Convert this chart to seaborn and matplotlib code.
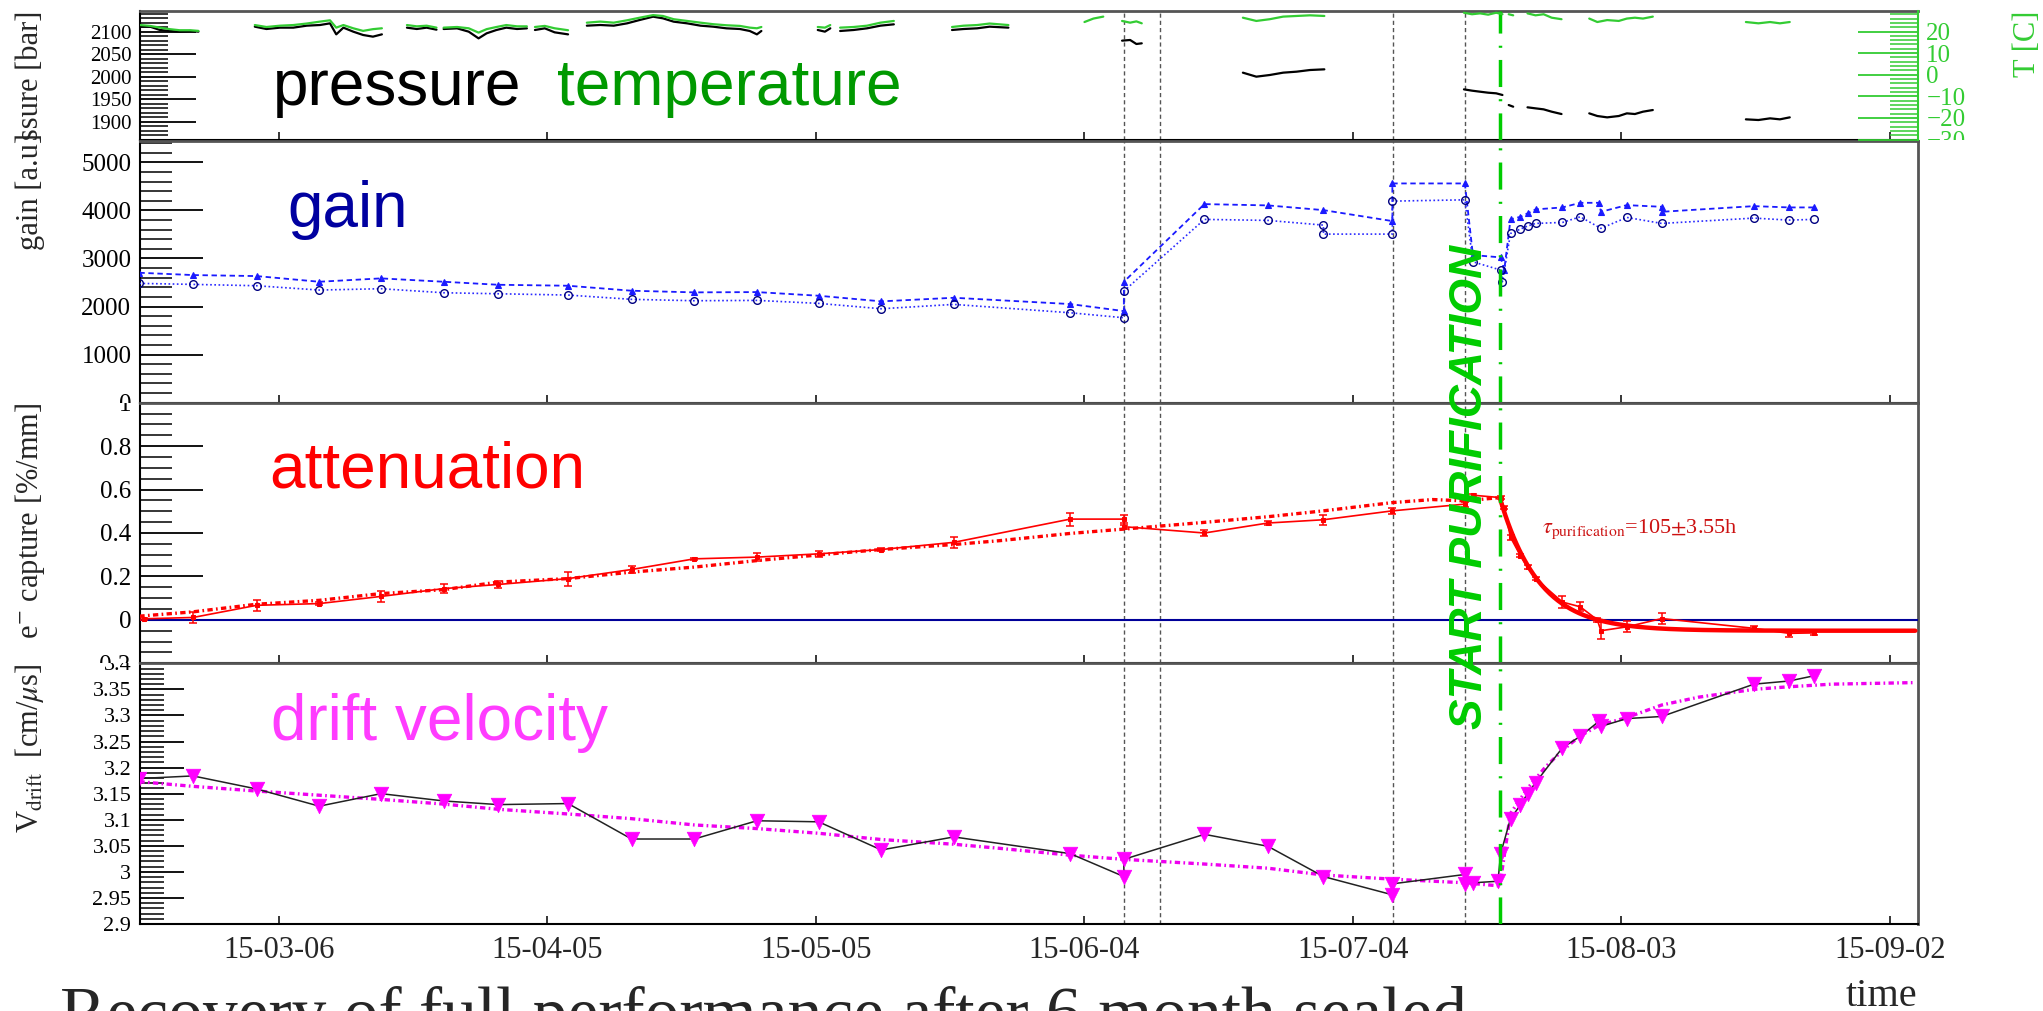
import numpy as np
import pandas as pd
import matplotlib
matplotlib.use("Agg")
import matplotlib.pyplot as plt
import matplotlib.dates as mdates
from matplotlib.ticker import MultipleLocator, FixedLocator, FuncFormatter
from matplotlib.transforms import Bbox, TransformedBbox
import seaborn as sns

# ---------------------------------------------------------------- data
# time is given in days relative to 2015-03-06
T0 = pd.Timestamp("2015-03-06")
x_range_days = (-15.56, 183.13)
tick_days = [0, 30, 60, 90, 120, 150, 180]
run_marks_days = [94.4, 98.4, 124.5, 132.5]
purification_day = 136.4

# slow control: pressure [bar] and temperature [C], recorded in stretches
sc_days = [
    [-15.5, -14.4, -13.3, -12.2, -11.1, -9.9, -9.0],
    [-2.7, -1.4, 0.1, 1.6, 3.1, 4.6, 5.7, 6.4, 7.2, 8.3, 9.4, 10.5, 11.5],
    [14.3, 15.4, 16.5, 17.6],
    [18.4, 19.9, 21.2, 22.3, 23.2, 24.3, 25.4, 26.6, 27.7],
    [28.6, 29.7, 30.8, 32.3],
    [34.4, 35.9, 37.4, 38.9, 40.3, 41.8, 42.9, 44.1, 45.6, 47.1, 48.5, 50.0, 51.5, 52.6, 53.4, 53.9],
    [60.2, 61.0, 61.6],
    [62.7, 64.2, 65.7, 67.2, 68.7],
    [75.2, 76.5, 78.0, 79.4, 81.5],
    [94.2, 95.1, 95.8, 96.4],
    [107.7, 109.2, 110.7, 112.2, 113.7, 115.2, 116.8],
    [132.4, 133.3, 134.2, 135.1, 136.0, 136.7],
    [137.4, 137.9],
    [139.5, 140.4, 141.3, 142.2, 143.3],
    [146.4, 147.3, 148.4, 149.7, 150.6, 151.5, 152.4, 153.5],
    [163.9, 165.3, 166.6, 167.7, 168.8],
]
sc_pressure = [
    [2111.2, 2111.2, 2103.8, 2101.6, 2100.1, 2101.6, 2100.1],
    [2111.2, 2106.0, 2109.0, 2109.0, 2113.4, 2114.9, 2118.6, 2094.1, 2109.0, 2100.1, 2092.7, 2089.0, 2094.1],
    [2109.0, 2106.0, 2109.0, 2104.5],
    [2106.0, 2107.5, 2100.1, 2085.2, 2096.4, 2103.8, 2109.0, 2106.0, 2107.5],
    [2103.8, 2107.5, 2098.6, 2094.1],
    [2113.4, 2114.9, 2113.4, 2118.6, 2126.0, 2133.4, 2129.7, 2122.3, 2118.6, 2113.4, 2111.2, 2107.5, 2106.0, 2101.6, 2094.1, 2101.6],
    [2103.8, 2100.1, 2107.5],
    [2101.6, 2103.8, 2107.5, 2113.4, 2116.4],
    [2103.8, 2106.0, 2107.5, 2111.2, 2109.0],
    [2080.1, 2081.6, 2072.7, 2074.2],
    [2009.0, 2000.1, 2003.8, 2009.0, 2011.2, 2014.9, 2016.4],
    [1971.9, 1969.0, 1966.7, 1964.5, 1963.1, 1959.4],
    [1937.1, 1933.4],
    [1932.0, 1929.7, 1927.5, 1922.3, 1917.1],
    [1918.6, 1912.7, 1909.7, 1912.7, 1918.6, 1917.1, 1922.3, 1926.0],
    [1905.3, 1903.8, 1907.5, 1905.3, 1909.7],
]
sc_temperature = [
    [23.0, 22.6, 21.8, 21.1, 20.6, 20.6, 20.3],
    [23.0, 22.1, 22.7, 23.0, 23.7, 24.6, 25.2, 21.8, 23.0, 21.5, 20.3, 21.1, 21.5],
    [23.0, 22.4, 22.7, 21.8],
    [21.8, 22.1, 21.5, 19.5, 21.1, 22.1, 23.0, 22.4, 22.4],
    [22.1, 22.6, 21.5, 20.6],
    [24.1, 24.6, 24.1, 25.2, 26.4, 27.6, 27.2, 25.7, 24.9, 24.1, 23.4, 22.9, 22.6, 21.8, 21.5, 22.1],
    [22.1, 21.8, 23.0],
    [21.8, 22.1, 22.7, 24.1, 24.9],
    [22.1, 22.7, 23.0, 23.7, 23.0],
    [24.9, 24.1, 24.7, 23.8],
    [26.4, 24.9, 25.7, 26.9, 27.2, 27.5, 27.2],
    [28.7, 28.0, 28.4, 27.8, 28.7, 28.0],
    [28.0, 27.5],
    [28.4, 27.5, 28.0, 26.4, 25.7],
    [26.0, 24.4, 25.3, 24.9, 26.0, 26.4, 26.0, 26.9],
    [24.4, 23.8, 24.4, 23.8, 24.4],
]
# stretch with temperature only
t_only_days = [90.0, 91.0, 92.1]
t_only_temperature = [24.4, 26.0, 26.9]

# gain, two readout methods
gain_hi_days = [-15.6, -9.6, -2.5, 4.5, 11.4, 18.4, 24.5, 32.3, 39.4, 46.4, 53.4, 60.3, 67.3, 75.4,
                88.4, 94.4, 94.4, 103.4, 110.5, 116.7, 124.4, 124.4, 132.5, 133.4, 136.5, 136.9,
                137.6, 138.7, 139.5, 140.4, 143.4, 145.4, 147.5, 147.7, 150.6, 154.5, 154.5,
                164.8, 168.7, 171.5]
gain_hi = [2703, 2655, 2634, 2516, 2586, 2516, 2453, 2433, 2329, 2295, 2301, 2225, 2108, 2183,
           2052, 1906, 2516, 4131, 4104, 4006, 3778, 4561, 4561, 3071, 3023, 2759,
           3813, 3867, 3938, 4021, 4062, 4158, 4158, 3971, 4110, 4075, 3971,
           4089, 4062, 4062]
gain_lo_days = [-15.6, -9.6, -2.5, 4.5, 11.4, 18.4, 24.5, 32.3, 39.4, 46.4, 53.4, 60.3, 67.3, 75.4,
                88.4, 94.4, 94.4, 103.4, 110.5, 116.7, 116.7, 124.4, 124.4, 132.5, 133.4, 136.5,
                136.7, 137.6, 138.7, 139.5, 140.4, 143.4, 145.4, 147.7, 150.6, 154.5,
                164.8, 168.7, 171.5]
gain_lo = [2482, 2461, 2433, 2343, 2371, 2287, 2266, 2239, 2150, 2121, 2128, 2066, 1954, 2045,
           1871, 1767, 2322, 3813, 3792, 3694, 3507, 3507, 4193, 4220, 2931, 2759,
           2516, 3521, 3611, 3674, 3729, 3750, 3867, 3626, 3854, 3729,
           3840, 3798, 3813]

# electron capture [%/mm]
att_days = [-15.1, -9.6, -2.5, 4.5, 11.4, 18.4, 24.5, 32.3, 39.4, 46.4, 53.4, 60.3, 67.3, 75.4,
            88.4, 94.4, 94.4, 103.4, 110.5, 116.7, 124.4, 132.5, 133.4, 136.5, 136.9,
            137.6, 138.7, 139.5, 140.4, 143.4, 145.4, 147.3, 147.7, 150.6, 154.5,
            164.8, 168.7, 171.5]
att = [0.005, 0.011, 0.067, 0.075, 0.108, 0.144, 0.163, 0.190, 0.232, 0.281, 0.289, 0.304, 0.324, 0.357,
       0.464, 0.464, 0.429, 0.400, 0.446, 0.461, 0.502, 0.533, 0.574, 0.563, 0.517,
       0.380, 0.296, 0.243, 0.190, 0.082, 0.060, 0.000, -0.050, -0.032, 0.006,
       -0.039, -0.062, -0.060]
att_err = [0.005, 0.024, 0.026, 0.008, 0.024, 0.020, 0.018, 0.032, 0.015, 0.006, 0.019, 0.015, 0.008, 0.024,
           0.030, 0.020, 0.010, 0.015, 0.010, 0.024, 0.015, 0.011, 0.006, 0.008, 0.008,
           0.010, 0.008, 0.008, 0.008, 0.027, 0.020, 0.008, 0.040, 0.025, 0.025,
           0.010, 0.015, 0.008]
att_trend_days = [-15.6, -9.6, -2.5, 4.5, 11.4, 18.4, 24.5, 32.3, 39.4, 46.4, 53.4, 60.3, 67.3, 75.4,
                  80.6, 88.4, 94.4, 103.4, 110.5, 116.7, 124.4, 128.9, 132.5, 136.4]
att_trend = [0.017, 0.037, 0.072, 0.090, 0.121, 0.139, 0.174, 0.190, 0.220, 0.243, 0.273, 0.299, 0.324, 0.347,
             0.365, 0.398, 0.418, 0.449, 0.475, 0.502, 0.540, 0.554, 0.548, 0.563]
# exponential purification fit
tau_purification_h = 105.0
tau_err_h = 3.55
fit_amplitude = 0.613
fit_offset = -0.05

# drift velocity [cm/us]
vd_days = [-15.6, -9.6, -2.5, 4.5, 11.4, 18.4, 24.5, 32.3, 39.4, 46.4, 53.4, 60.3, 67.3, 75.4,
           88.4, 94.4, 94.4, 103.4, 110.5, 116.7, 124.4, 124.4, 132.5, 132.5, 133.4, 136.2,
           136.5, 137.6, 138.7, 139.5, 140.4, 143.4, 145.4, 147.5, 147.7, 150.6, 154.5,
           164.8, 168.7, 171.5]
vd = [3.179, 3.184, 3.159, 3.126, 3.150, 3.136, 3.129, 3.131, 3.063, 3.063, 3.098, 3.096, 3.042, 3.067,
      3.035, 2.991, 3.024, 3.072, 3.049, 2.991, 2.956, 2.977, 2.995, 2.977, 2.979, 2.982,
      3.035, 3.102, 3.128, 3.150, 3.171, 3.238, 3.260, 3.289, 3.279, 3.294, 3.298,
      3.360, 3.366, 3.376]
vd_trend_days = [-15.6, -9.6, -2.5, 4.5, 11.4, 18.4, 24.5, 32.3, 39.4, 46.4, 53.4, 60.3, 67.3, 75.4,
                 80.6, 88.4, 94.4, 103.4, 110.5, 116.7, 124.4, 132.5, 136.4, 137.6, 139.5, 141.5,
                 143.4, 145.4, 147.5, 150.6, 154.5, 158.6, 164.8, 168.7, 173.5, 182.8]
vd_trend = [3.173, 3.164, 3.155, 3.147, 3.139, 3.130, 3.120, 3.111, 3.102, 3.090, 3.083, 3.074, 3.062, 3.053,
            3.045, 3.032, 3.024, 3.015, 3.007, 2.994, 2.986, 2.979, 2.973, 3.112, 3.160, 3.201,
            3.233, 3.261, 3.281, 3.296, 3.320, 3.335, 3.350, 3.355, 3.360, 3.363]


def to_time(days):
    return T0 + pd.to_timedelta(np.asarray(days, dtype=float), unit="D")


# ---------------------------------------------------------------- style
sns.set_theme(style="ticks")
plt.rcParams["font.family"] = ["Liberation Serif", "DejaVu Serif"]
plt.rcParams["mathtext.fontset"] = "stix"
plt.rcParams["axes.facecolor"] = "white"
SANS = ["Liberation Sans", "DejaVu Sans"]

GREEN_T = "#33cc33"
GREEN_P = "#00cc00"

W, H = 2043, 1011
fig = plt.figure(figsize=(W / 100, H / 100), dpi=100)
X0, X1 = 139.7, 1918.0
panel_px = [(11.0, 140.0), (140.7, 402.7), (402.7, 663.3), (663.3, 924.0)]


def rect(top, bot):
    return [X0 / W, 1 - bot / H, (X1 - X0) / W, (bot - top) / H]


ax1 = fig.add_axes(rect(*panel_px[0]))
ax2 = fig.add_axes(rect(*panel_px[1]), sharex=ax1)
ax3 = fig.add_axes(rect(*panel_px[2]), sharex=ax1)
ax4 = fig.add_axes(rect(*panel_px[3]), sharex=ax1)
axes = [ax1, ax2, ax3, ax4]


def num_fmt(v, pos):
    v = round(v, 6)
    if v == 0:
        return "0"
    return f"{v:g}".replace("-", "\u2212")


# ---------------------------------------------------------------- panel 1: pressure / temperature
rows_p, rows_t = [], []
for k, (d, p, t) in enumerate(zip(sc_days, sc_pressure, sc_temperature)):
    for di, pi, ti in zip(d, p, t):
        rows_p.append((k, di, pi))
        rows_t.append((k, di, ti))
for di, ti in zip(t_only_days, t_only_temperature):
    rows_t.append((len(sc_days), di, ti))
df_p = pd.DataFrame(rows_p, columns=["seg", "day", "pressure"])
df_t = pd.DataFrame(rows_t, columns=["seg", "day", "temperature"])
df_p["time"] = to_time(df_p["day"])
df_t["time"] = to_time(df_t["day"])

sns.lineplot(data=df_p, x="time", y="pressure", units="seg", estimator=None, sort=False,
             color="black", lw=1.6, ax=ax1, legend=False, zorder=4)
ax1t = ax1.twinx()
sns.lineplot(data=df_t, x="time", y="temperature", units="seg", estimator=None, sort=False,
             color=GREEN_T, lw=1.6, ax=ax1t, legend=False, zorder=5)

# ---------------------------------------------------------------- panel 2: gain
sns.lineplot(x=to_time(gain_hi_days), y=gain_hi, sort=False, estimator=None, ax=ax2,
             color="#1a1aff", lw=1.3, linestyle=(0, (3, 2)), marker="^", markersize=5,
             markeredgecolor="#1a1aff", markeredgewidth=0.8, zorder=5)
sns.lineplot(x=to_time(gain_lo_days), y=gain_lo, sort=False, estimator=None, ax=ax2,
             color="#2a2aff", lw=1.2, linestyle=(0, (1, 1.5)), marker="o", markersize=5.5,
             markerfacecolor="none", markeredgecolor="#000080", markeredgewidth=1.0, zorder=5)

# ---------------------------------------------------------------- panel 3: attenuation
ax3.axhline(0, color="#000099", lw=1.5, zorder=3)
sns.lineplot(x=to_time(att_trend_days), y=att_trend, sort=False, estimator=None, ax=ax3,
             color="red", lw=2.4, linestyle=(0, (1.6, 1.0, 0.5, 1.0)), zorder=4)
sns.lineplot(x=to_time(att_days), y=att, sort=False, estimator=None, ax=ax3,
             color="red", lw=1.2, marker="s", markersize=3, markeredgecolor="red", zorder=5)
ax3.errorbar(to_time(att_days), att, yerr=att_err, fmt="none", ecolor="red",
             elinewidth=1.1, capsize=3, capthick=1.1, zorder=5)
fit_days = np.linspace(purification_day, x_range_days[1] - 0.3, 300)
fit_vals = fit_amplitude * np.exp(-(fit_days - purification_day) * 24.0 / tau_purification_h) + fit_offset
sns.lineplot(x=to_time(fit_days), y=fit_vals, sort=False, estimator=None, ax=ax3,
             color="red", lw=3.2, zorder=6)

# ---------------------------------------------------------------- panel 4: drift velocity
sns.lineplot(x=to_time(vd_trend_days), y=vd_trend, sort=False, estimator=None, ax=ax4,
             color="#ee00ee", lw=2.4, linestyle=(0, (1.6, 1.0, 0.5, 1.0)), zorder=4)
sns.lineplot(x=to_time(vd_days), y=vd, sort=False, estimator=None, ax=ax4,
             color="#222222", lw=1.1, zorder=5)
sns.scatterplot(x=to_time(vd_days), y=vd, ax=ax4, marker="v", s=110, color="#ff00ff",
                edgecolor="#ff00ff", linewidth=0.5, zorder=6, legend=False)

# ---------------------------------------------------------------- vertical markers
for ax in axes:
    for d in run_marks_days:
        ax.axvline(to_time([d])[0], color="#555555", lw=1.0, ls=(0, (3, 2.2)), zorder=2)
    ax.axvline(to_time([purification_day])[0], color=GREEN_P, lw=2.5,
               ls=(0, (7.8, 3.5, 0.6, 3.5)), zorder=7)

# ---------------------------------------------------------------- axes styling
yconf = [
    (ax1, (1859.4, 2146.0), 50, 10, 40, 20, 15),
    (ax2, (0, 5450), 1000, 200, 45, 23, 18),
    (ax3, (-0.2, 1.0), 0.2, 0.05, 45, 23, 18),
    (ax4, (2.9, 3.4), 0.05, 0.01, 32, 17, 16),
]
for ax, lim, maj, mnr, lmaj, lmin, fs in yconf:
    ax.set_ylim(*lim)
    ax.yaxis.set_major_locator(MultipleLocator(maj))
    ax.yaxis.set_minor_locator(MultipleLocator(mnr))
    ax.yaxis.set_major_formatter(FuncFormatter(num_fmt))
    ax.tick_params(axis="y", which="major", direction="in", length=lmaj, width=1.3,
                   labelsize=fs, pad=6, left=True, right=False, colors="black")
    ax.tick_params(axis="y", which="minor", direction="in", length=lmin, width=1.3,
                   left=True, right=False)
    ax.tick_params(axis="x", which="major", direction="in", length=6, width=1.3,
                   bottom=True, top=False, labelsize=22, pad=9)
    ax.tick_params(axis="x", which="minor", bottom=False, top=False)
    for s in ("top", "right"):
        ax.spines[s].set_color("#555555")
        ax.spines[s].set_linewidth(2)
    for s in ("left", "bottom"):
        ax.spines[s].set_color("black")
        ax.spines[s].set_linewidth(1.5)
    ax.set_xlabel("")
    ax.set_facecolor("white")

ax1.spines["right"].set_visible(False)

ax4.set_xlim(to_time([x_range_days[0]])[0], to_time([x_range_days[1]])[0])
ax4.xaxis.set_major_locator(FixedLocator(mdates.date2num(to_time(tick_days))))
ax4.xaxis.set_major_formatter(mdates.DateFormatter("%y-%m-%d"))
for ax in (ax1, ax2, ax3):
    ax.tick_params(axis="x", labelbottom=False)

# temperature axis on the right of the top panel
ax1t.set_ylim(-30.2, 29.5)
ax1t.yaxis.set_major_locator(MultipleLocator(10))
ax1t.yaxis.set_minor_locator(MultipleLocator(2))
ax1t.yaxis.set_major_formatter(FuncFormatter(num_fmt))
ax1t.tick_params(axis="y", which="major", direction="in", length=43, width=1.3,
                 labelsize=18, pad=6, colors=GREEN_T, right=True, left=False)
ax1t.tick_params(axis="y", which="minor", direction="in", length=20, width=1.1,
                 colors=GREEN_T, right=True, left=False)
for s in ("top", "left", "bottom"):
    ax1t.spines[s].set_visible(False)
ax1t.spines["right"].set_color(GREEN_T)
ax1t.spines["right"].set_linewidth(1.5)
ax1t.set_ylabel("T [C]", loc="top", fontsize=22, color=GREEN_T)
ax1t.yaxis.set_label_coords((2028 - X0) / (X1 - X0), 1.0)
ax1t.yaxis.label.set_va("center")

# axis titles
ylabels = [
    (ax1, "pressure [bar]", 1.0),
    (ax2, "gain [a.u]", 1.03),
    (ax3, r"e$^{-}$ capture [%/mm]", 1.0),
    (ax4, r"V$_{\mathrm{drift}}$  [cm/$\mu$s]", 1.0),
]
for ax, txt, ytop in ylabels:
    ax.set_ylabel(txt, loc="top", fontsize=22)
    ax.yaxis.set_label_coords((30 - X0) / (X1 - X0), ytop)
    ax.yaxis.label.set_va("center")

# ---------------------------------------------------------------- annotations
fig.text(273 / W, 1 - 105 / H, "pressure", color="black", fontsize=46, family=SANS)
fig.text(557 / W, 1 - 105 / H, "temperature", color="#009900", fontsize=46, family=SANS)
fig.text(287 / W, 1 - 226.7 / H, "gain", color="#0000a0", fontsize=46, family=SANS)
fig.text(269 / W, 1 - 488 / H, "attenuation", color="#ff0000", fontsize=46, family=SANS)
fig.text(271 / W, 1 - 740 / H, "drift velocity", color="#ff3cff", fontsize=46, family=SANS)
fig.text(1470 / W, 1 - 487 / H, "START PURIFICATION", color=GREEN_P, fontsize=33,
         family=SANS, fontweight="bold", fontstyle="italic", rotation=90,
         ha="center", va="center", zorder=10)
fig.text(1542 / W, 1 - 533 / H,
         r"$\tau_{\mathrm{purification}}$" + f"={tau_purification_h:g}$\\pm${tau_err_h:g}h",
         color="#cc1111", fontsize=16)
fig.text(1917 / W, 1 - 1006 / H, "time", ha="right", va="baseline", fontsize=29)
fig.text(60 / W, 1 - 1035 / H, "Recovery of full performance after 6 month sealed",
         ha="left", va="baseline", fontsize=50)

# ---------------------------------------------------------------- clip labels to their own panel
fig.canvas.draw()


def band(top, bot):
    return TransformedBbox(Bbox.from_extents(0, 1 - bot / H, 1, 1 - top / H), fig.transFigure)


# the lowest panel keeps everything below its frame visible
clip_bands = [panel_px[0], panel_px[1], panel_px[2], (panel_px[3][0], H)]
for ax, (top, bot) in zip(axes, clip_bands):
    b = band(top, bot)
    for tk in ax.yaxis.get_major_ticks():
        for lab in (tk.label1, tk.label2):
            lab.set_clip_on(True)
            lab.set_clip_box(b)
for tk in ax1t.yaxis.get_major_ticks():
    for lab in (tk.label1, tk.label2):
        lab.set_clip_on(True)
        lab.set_clip_box(band(*panel_px[0]))
ax1.yaxis.label.set_clip_on(True)
ax1.yaxis.label.set_clip_box(band(0, panel_px[0][1]))

fig.savefig("out.png", dpi=100)
